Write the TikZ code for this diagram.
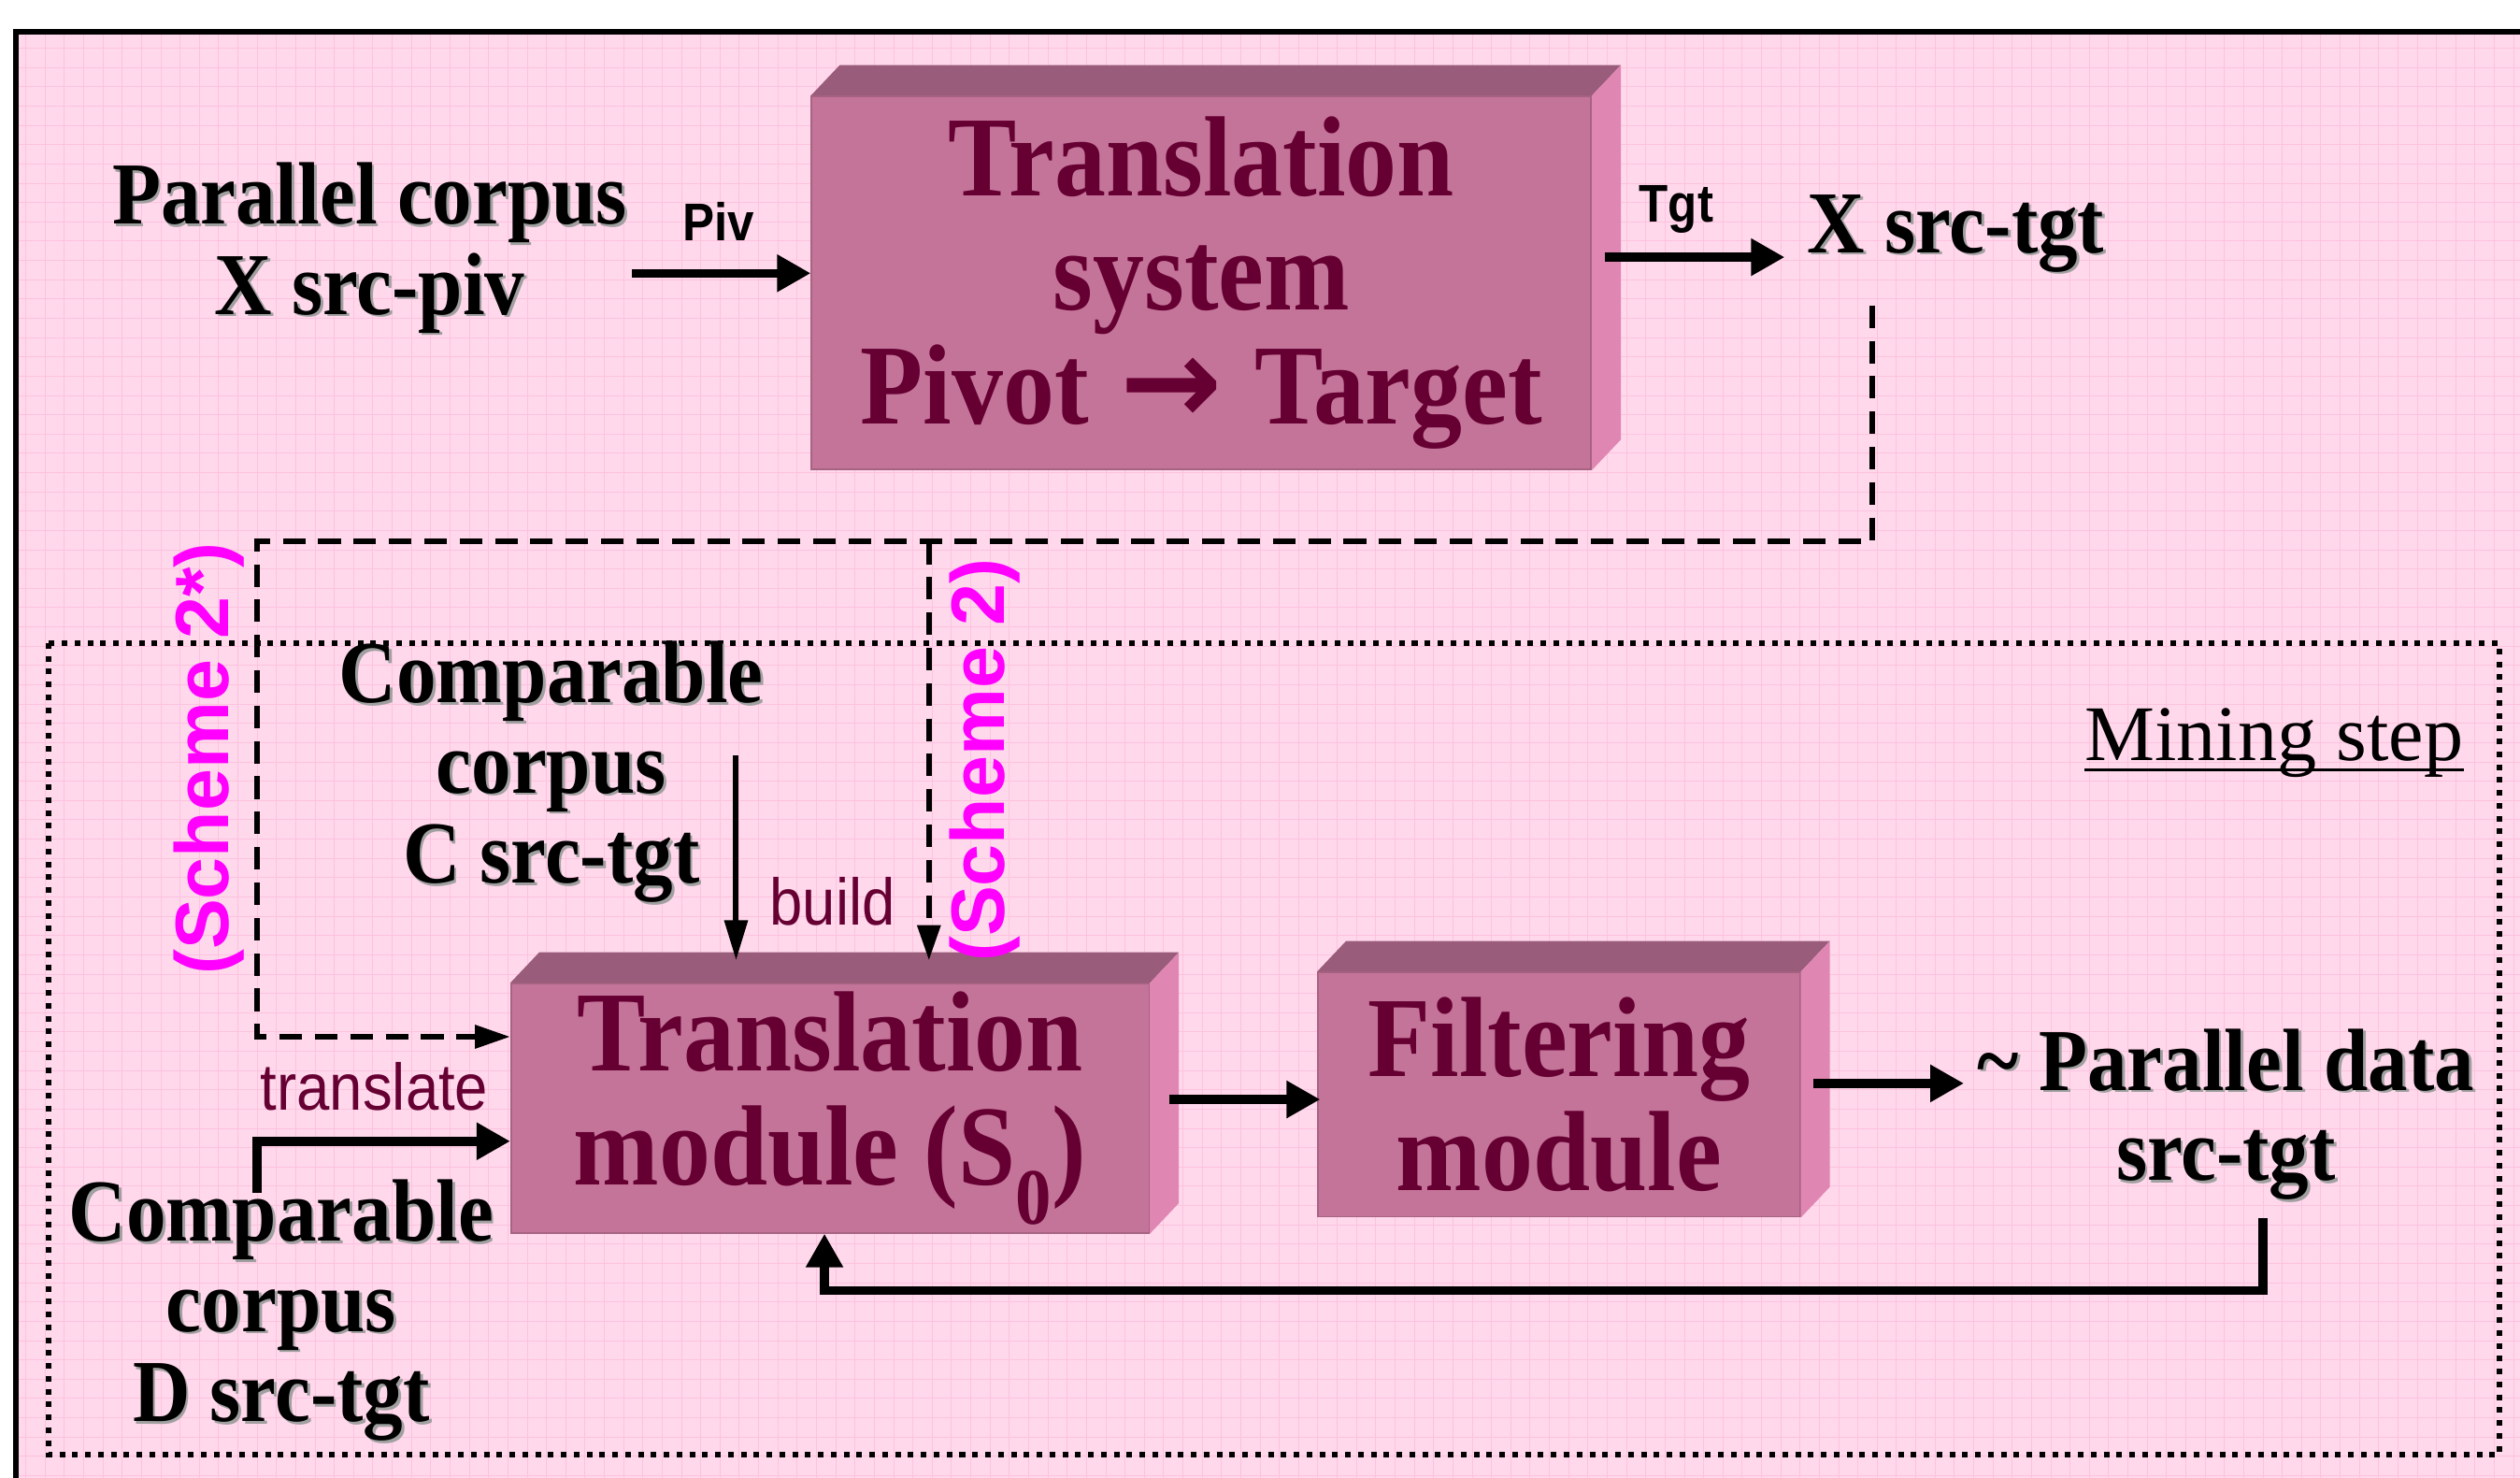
\documentclass[tikz,border=0pt]{standalone}
\usepackage{fontspec}
\setmainfont{Liberation Serif}
\setsansfont{Liberation Sans}
\newfontfamily\condserif[FakeStretch=0.9]{Liberation Serif}
\newfontfamily\condsans[FakeStretch=0.9]{Liberation Sans}
\newfontfamily\arrowfont{DejaVu Sans}
\usetikzlibrary{calc, arrows.meta}

\definecolor{bgpink}{RGB}{255,216,236}
\definecolor{gridpink}{RGB}{253,194,222}
\definecolor{boxfront}{RGB}{196,116,153}
\definecolor{boxtop}{RGB}{153,92,122}
\definecolor{boxside}{RGB}{224,134,178}
\definecolor{boxtext}{RGB}{102,0,51}
\definecolor{schemepink}{RGB}{255,0,255}
\definecolor{shadowgray}{RGB}{160,160,160}

\tikzset{
    block/.style={fill=boxfront, draw=boxfront!85!black, line width=1pt, inner sep=0pt,
        text=boxtext, align=center, font=\condserif\bfseries\fontsize{71}{71}\selectfont},
    corpus/.style={align=center, inner sep=0pt, font=\condserif\bfseries\fontsize{55}{56}\selectfont},
    tag/.style={inner sep=0pt, font=\condsans\bfseries\fontsize{33}{36}\selectfont},
    verb/.style={inner sep=0pt, text=boxtext, font=\condsans\fontsize{41}{44}\selectfont},
    scheme/.style={inner sep=0pt, text=schemepink, font=\sffamily\bfseries\fontsize{47}{48}\selectfont},
    mininglabel/.style={inner sep=0pt, font=\fontsize{49}{50}\selectfont},
    bggrid/.style={draw=gridpink, line width=0.5pt},
    flow/.style={line width=5.5pt, -{Triangle[length=21pt, width=22pt]}},
    thinflow/.style={line width=3.5pt, -{Triangle[length=25pt, width=14pt]}},
    dashline/.style={line width=3.5pt, dash pattern=on 14pt off 8pt},
    dasharrow/.style={dashline, -{Triangle[length=22pt, width=14pt]}},
    dotframe/.style={line width=3.5pt, dash pattern=on 3.5pt off 4.5pt}
}

% text with a soft drop shadow
\newcommand{\shd}[1]{\rlap{\hspace*{1.6pt}\raisebox{-1.6pt}{\color{shadowgray}#1}}#1}

% top and right faces of a block
\newcommand{\boxfaces}[1]{%
    \fill[boxtop] (#1.north west) -- ++(18,-19) -- ([shift={(18,-19)}]#1.north east) -- (#1.north east) -- cycle;
    \fill[boxside] (#1.north east) -- ++(18,-19) -- ([shift={(18,-19)}]#1.south east) -- (#1.south east) -- cycle;
}

\begin{document}
\begin{tikzpicture}[x=1pt, y=-1pt]
    \useasboundingbox (0,0) rectangle (1568,919.5);

    % paper with its fine grid
    \fill[bgpink] (10,20) rectangle (1568,919.5);
    \foreach \gx in {16,28,...,1564} \draw[bggrid] (\gx,21) -- (\gx,919.5);
    \foreach \gy in {30,42,...,918} \draw[bggrid] (10,\gy) -- (1568,\gy);
    \draw[line width=3.5pt] (10,919.5) -- (10,20) -- (1568,20);

    % mining step frame
    \draw[dotframe] (30,400) rectangle (1555,905);
    \node[mininglabel] (mine) at (1415,462) {Mining step};
    \draw[line width=2pt] ($(mine.base west)+(0,6)$) -- ($(mine.base east)+(0,6)$);

    % pivot translation system
    \node[block, minimum width=485pt, minimum height=232pt] (tsys) at (747.5,176)
        {Translation\\system\\Pivot\hspace{0.28em}{\arrowfont\bfseries\fontsize{76}{71}\selectfont→}\hspace{0.28em}Target};
    \boxfaces{tsys}
    \node[corpus] (par) at (230,155) {\shd{Parallel corpus}\\\shd{X src-piv}};
    \node[corpus] (xst) at (1217,146) {\shd{X src-tgt}};
    \node[tag] (piv) at (447,138) {Piv};
    \node[tag] (tgt) at (1043,130) {Tgt};
    \coordinate (xin) at ($(xst.west)+(-14,14)$);
    \draw[flow] ($(par.east |- tsys.west)+(3,-6)$) -- ($(tsys.west)+(0,-6)$);
    \draw[flow] ($(tsys.east)+(8,-16)$) -- (xin);

    % mining modules
    \node[block, minimum width=397pt, minimum height=155pt] (tmod) at (516.5,689.5) {Translation\\module (S\textsubscript{0})};
    \boxfaces{tmod}
    \node[block, minimum width=300pt, minimum height=152pt] (filt) at (970,681) {Filtering\\module};
    \boxfaces{filt}

    \node[corpus] (compc) at (343,481) {\shd{Comparable}\\\shd{corpus}\\\shd{C src-tgt}};
    \node[corpus] (compd) at (175,816) {\shd{Comparable}\\\shd{corpus}\\\shd{D src-tgt}};
    \node[corpus] (pdata) at (1385,694) {\shd{\textasciitilde{} Parallel data}\\\shd{src-tgt}};
    \node[verb] (build) at (518,561) {build};
    \node[verb] (transl) at (233,676) {translate};
    \node[scheme, rotate=90] (schb) at (130,472) {(Scheme 2*)};
    \node[scheme, rotate=90] (scha) at (613,473) {(Scheme 2)};

    % scheme routes from the pivot output
    \coordinate (dstart) at (1165,190);
    \coordinate (dleft) at (160,337);
    \coordinate (dsplit) at (578,337);
    \draw[dasharrow] (dstart) |- (dleft) |- ($(tmod.west)+(0,-44.5)$);
    \draw[dasharrow] (dsplit) -- ($(dsplit |- tmod.north)+(0,-14)$);

    % data flow
    \coordinate (bstart) at (458,470);
    \coordinate (tstart) at (160,742);
    \coordinate (pin) at (1222,674);
    \coordinate (fb) at (1408,758);
    \draw[thinflow] (bstart) -- ($(bstart |- tmod.north)+(0,-14)$);
    \draw[flow] (tstart) |- ($(tmod.west)+(0,20.5)$);
    \draw[flow] ($(tmod.east)+(12,-5.5)$) -- ($(filt.west)+(2,3)$);
    \draw[flow] ($(filt.east)+(8,-7)$) -- (pin);
    \draw[flow] (fb) -- ++(0,45) -| ($(tmod.south)+(-3.5,0)$);
\end{tikzpicture}
\end{document}
